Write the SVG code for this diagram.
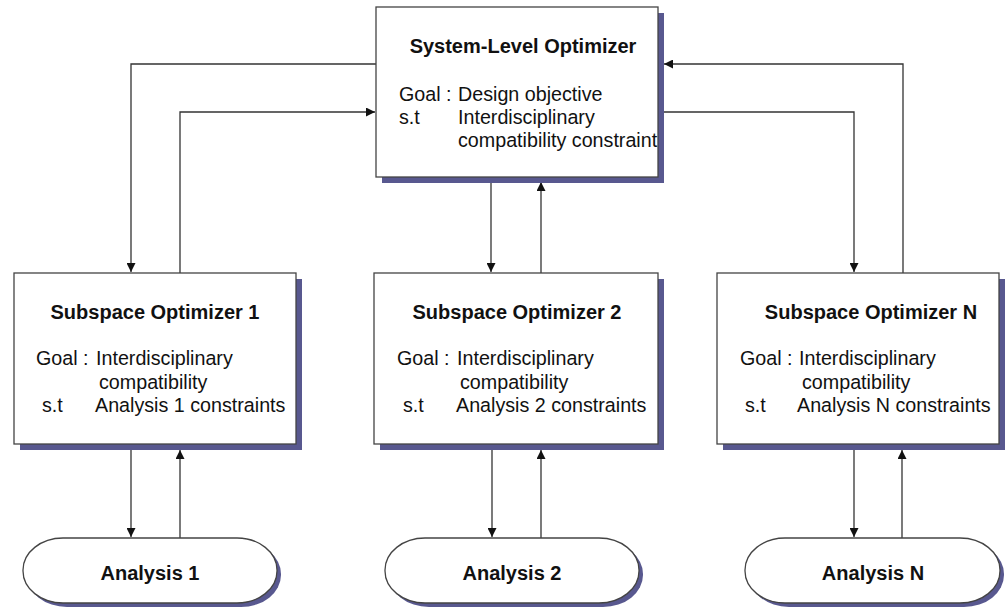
<svg xmlns="http://www.w3.org/2000/svg" width="1006" height="613" viewBox="0 0 1006 613">
  <defs>
    <marker id="arrow" viewBox="0 0 10 10" refX="10" refY="5" markerWidth="9" markerHeight="9" markerUnits="userSpaceOnUse" orient="auto">
      <path d="M0,0 L10,5 L0,10 z" fill="#111"/>
    </marker>
  </defs>
  <style>
    .box { fill: #ffffff; stroke: #444; stroke-width: 1.3; }
    .shadow { fill: #58588f; }
    .link { fill: none; stroke: #333; stroke-width: 1.3; marker-end: url(#arrow); }
    .title { font-family: "Liberation Sans", Arial, sans-serif; font-weight: bold; font-size: 20px; fill: #111; }
    .body { font-family: "Liberation Sans", Arial, sans-serif; font-size: 19.7px; fill: #111; }
  </style>

  <rect width="1006" height="613" fill="#ffffff"/>

  <!-- connectors -->
  <g id="connectors">
    <path class="link" d="M376,64 H131 V272"/>
    <path class="link" d="M180,273 V112 H375"/>
    <path class="link" d="M903,273 V64 H664"/>
    <path class="link" d="M658,112 H854 V272"/>
    <path class="link" d="M491,177 V272"/>
    <path class="link" d="M541,273 V182"/>
    <path class="link" d="M131,444 V537"/>
    <path class="link" d="M180,538 V450"/>
    <path class="link" d="M492,444 V537"/>
    <path class="link" d="M541,538 V450"/>
    <path class="link" d="M854,444 V537"/>
    <path class="link" d="M902,538 V450"/>
  </g>

  <!-- system-level optimizer -->
  <g id="system-optimizer">
    <rect class="shadow" x="382" y="13" width="282" height="170"/>
    <rect class="box" x="376" y="7" width="282" height="170"/>
    <text class="title" x="523" y="53" text-anchor="middle">System-Level Optimizer</text>
    <text class="body" x="399" y="101">Goal :</text>
    <text class="body" x="458" y="101">Design objective</text>
    <text class="body" x="399" y="124">s.t</text>
    <text class="body" x="458" y="124">Interdisciplinary</text>
    <text class="body" x="458" y="147">compatibility constraint</text>
  </g>

  <!-- subspace optimizers -->
  <g id="subspace-optimizer-1">
    <rect class="shadow" x="20" y="279" width="282" height="171"/>
    <rect class="box" x="14" y="273" width="282" height="171"/>
    <text class="title" x="155" y="319" text-anchor="middle">Subspace Optimizer 1</text>
    <text class="body" x="36" y="365">Goal :</text>
    <text class="body" x="96" y="365">Interdisciplinary</text>
    <text class="body" x="99" y="389">compatibility</text>
    <text class="body" x="42" y="412">s.t</text>
    <text class="body" x="95" y="412">Analysis 1 constraints</text>
  </g>

  <g id="subspace-optimizer-2">
    <rect class="shadow" x="380" y="279" width="284" height="171"/>
    <rect class="box" x="374" y="273" width="284" height="171"/>
    <text class="title" x="517" y="319" text-anchor="middle">Subspace Optimizer 2</text>
    <text class="body" x="397" y="365">Goal :</text>
    <text class="body" x="457" y="365">Interdisciplinary</text>
    <text class="body" x="460" y="389">compatibility</text>
    <text class="body" x="403" y="412">s.t</text>
    <text class="body" x="456" y="412">Analysis 2 constraints</text>
  </g>

  <g id="subspace-optimizer-n">
    <rect class="shadow" x="723" y="279" width="282" height="171"/>
    <rect class="box" x="717" y="273" width="282" height="171"/>
    <text class="title" x="871" y="319" text-anchor="middle">Subspace Optimizer N</text>
    <text class="body" x="740" y="365">Goal :</text>
    <text class="body" x="799" y="365">Interdisciplinary</text>
    <text class="body" x="802" y="389">compatibility</text>
    <text class="body" x="745" y="412">s.t</text>
    <text class="body" x="797" y="412">Analysis N constraints</text>
  </g>

  <!-- analysis modules -->
  <g id="analysis-1">
    <rect class="shadow" x="27" y="542" width="254" height="65" rx="40" ry="32"/>
    <rect class="box" x="23" y="538" width="254" height="65" rx="40" ry="32"/>
    <text class="title" x="150" y="580" text-anchor="middle">Analysis 1</text>
  </g>

  <g id="analysis-2">
    <rect class="shadow" x="389" y="542" width="254" height="65" rx="40" ry="32"/>
    <rect class="box" x="385" y="538" width="254" height="65" rx="40" ry="32"/>
    <text class="title" x="512" y="580" text-anchor="middle">Analysis 2</text>
  </g>

  <g id="analysis-n">
    <rect class="shadow" x="749" y="542" width="255" height="65" rx="40" ry="32"/>
    <rect class="box" x="745" y="538" width="255" height="65" rx="40" ry="32"/>
    <text class="title" x="873" y="580" text-anchor="middle">Analysis N</text>
  </g>
</svg>
